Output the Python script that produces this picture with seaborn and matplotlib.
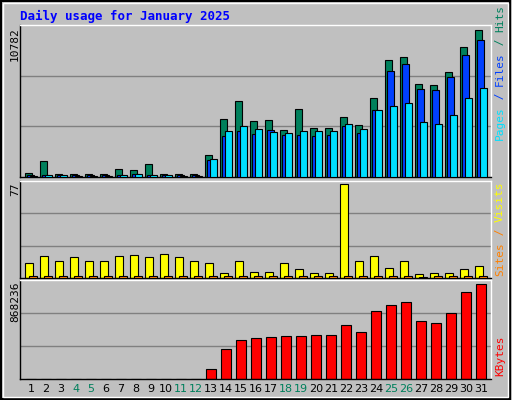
import matplotlib
matplotlib.use("Agg")
import matplotlib.pyplot as plt
import seaborn as sns
import numpy as np
import pandas as pd

days = list(range(1, 32))
hits = [317, 1195, 195, 244, 195, 195, 610, 537, 976, 244, 195, 195, 1634, 4268, 5585, 4122, 4195, 3463, 4975, 3609, 3609, 4414, 3829, 5804, 8585, 8804, 6829, 6756, 7707, 9536, 10782]
files = [122, 122, 122, 122, 122, 122, 122, 195, 122, 122, 122, 122, 1268, 3024, 3341, 3170, 3463, 3097, 3097, 3024, 3097, 3756, 3243, 4926, 7780, 8292, 6463, 6390, 7341, 8951, 10048]
pages = [98, 171, 171, 98, 98, 98, 171, 244, 171, 171, 98, 98, 1341, 3390, 3756, 3536, 3317, 3243, 3390, 3390, 3390, 3902, 3536, 4926, 5219, 5438, 4048, 3902, 4560, 5804, 6536]
visits = [12, 18, 14, 17, 14, 14, 18, 19, 17, 20, 17, 14, 12, 4, 14, 5, 5, 12, 7, 4, 4, 77, 14, 18, 8, 14, 3, 4, 4, 7, 10]
sites = [2, 2, 2, 2, 2, 2, 2, 2, 2, 2, 2, 2, 2, 2, 2, 2, 2, 2, 2, 2, 2, 2, 2, 2, 2, 2, 1, 2, 2, 2, 2]
kbytes = [3000, 3000, 3000, 3000, 3000, 3000, 3000, 3000, 3000, 3000, 3000, 3000, 95400, 276700, 353000, 372000, 384700, 394200, 394200, 403800, 403800, 496000, 429300, 620100, 677400, 706000, 534300, 515200, 601000, 801400, 868236]
weekend = [4, 5, 11, 12, 18, 19, 25, 26]

sns.set_style("white")
plt.rcParams['font.family'] = ['DejaVu Sans Mono', 'DejaVu Sans']
BG = "#C0C0C0"
fig = plt.figure(figsize=(5.12, 4.0), dpi=100, facecolor=BG)
W, H = 512, 400
def axrect(top, bot):
    return [20 / W, 1 - bot / H, 471 / W, (bot - top) / H]

x = np.array(days, dtype=float)
xl = (0.267, 31.667)
ec = "black"
lw = 0.8

def style(ax, ymax):
    ax.set_facecolor(BG)
    ax.set_xlim(*xl)
    ax.set_ylim(0, ymax)
    for f in (1 / 3, 2 / 3):
        ax.axhline(ymax * f, color="#808080", lw=1, zorder=0)
    for s in ax.spines.values():
        s.set_color("black")
        s.set_linewidth(1)
    ax.spines['top'].set_color("white")
    ax.spines['right'].set_color("white")
    ax.set_yticks([])
    ax.set_xticks([])

ax1 = fig.add_axes(axrect(25, 177))
ymax1 = 10782 * 152 / 147.4
style(ax1, ymax1)
ax1.bar(x - 2.5 / 15, hits, width=7 / 15, color="#00805C", edgecolor=ec, lw=lw, zorder=2)
ax1.bar(x - 0.5 / 15, files, width=7 / 15, color="#0040FF", edgecolor=ec, lw=lw, zorder=3)
ax1.bar(x + 2.5 / 15, pages, width=7 / 15, color="#00E0FF", edgecolor=ec, lw=lw, zorder=4)

ax2 = fig.add_axes(axrect(181, 278))
ymax2 = 77 * 97 / 94
style(ax2, ymax2)
ax2.bar(x - 2 / 15, visits, width=8 / 15, color="#FFFF00", edgecolor=ec, lw=lw, zorder=2)
ax2.bar(x + 2 / 15, sites, width=8 / 15, color="#FF8000", edgecolor=ec, lw=lw, zorder=3)

ax3 = fig.add_axes(axrect(280, 379))
ymax3 = 868236 * 99 / 94.7
df = pd.DataFrame({"day": x, "kb": kbytes})
sns.barplot(data=df, x="day", y="kb", native_scale=True, width=0.7, color="#FF0000",
            edgecolor=ec, linewidth=lw, saturation=1, ax=ax3, zorder=2)
style(ax3, ymax3)
ax3.set_xlabel("")
ax3.set_ylabel("")

fs = 8
for d in days:
    fig.text((31 + 15 * (d - 1)) / W, 1 - 389 / H, str(d), ha="center", va="center",
             fontsize=fs, family="DejaVu Sans",
             color="#00805C" if d in weekend else "black")

fig.text(20 / W, 1 - 16 / H, "Daily usage for January 2025", color="#0000FF",
         fontsize=9, fontweight="bold", ha="left", va="center")

def ltext(ytop, s):
    fig.text(15 / W, 1 - ytop / H, s, rotation=90, ha="center", va="top", fontsize=fs, color="black")
ltext(27, "10782")
ltext(182, "77")
ltext(281, "868236")

renderer = fig.canvas.get_renderer()
def rstack(ybottom, pieces):
    y = ybottom
    for s, c in pieces:
        t = fig.text(500 / W, 1 - y / H, s, rotation=90, ha="center", va="bottom",
                     fontsize=fs, color=c)
        bb = t.get_window_extent(renderer)
        y -= bb.height
rstack(140, [("Pages", "#00E0FF"), (" / ", "#0040FF"), ("Files", "#0040FF"), (" / ", "#00805C"), ("Hits", "#00805C")])
rstack(276, [("Sites", "#FF8000"), (" / ", "#FF8000"), ("Visits", "#FFFF00")])
rstack(376, [("KBytes", "#FF0000")])

from matplotlib.patches import Rectangle
fig.patches.append(Rectangle((0.002, 0.003), 0.995, 0.994, transform=fig.transFigure,
                             fill=False, edgecolor="black", lw=1.5))
fig.patches.append(Rectangle((0.006, 0.008), 0.987, 0.985, transform=fig.transFigure,
                             fill=False, edgecolor="white", lw=1))

fig.savefig("out.png", dpi=100, facecolor=BG)
